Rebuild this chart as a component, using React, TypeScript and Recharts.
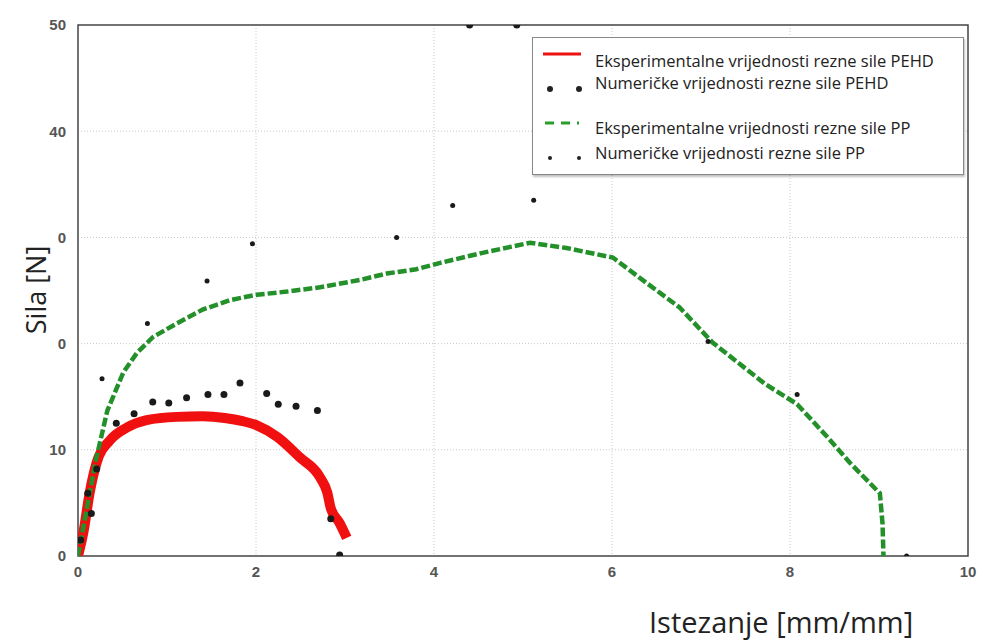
import React from "react";
import {
  ComposedChart,
  Line,
  Scatter,
  XAxis,
  YAxis,
  CartesianGrid,
  ReferenceArea,
} from "recharts";

// PEHD experimental (red band)
const pehdExpX = [0, 0.06, 0.13, 0.21, 0.36, 0.55, 0.77, 1.11, 1.4, 1.65, 1.85, 2.01, 2.24, 2.49, 2.72, 2.8, 2.84, 2.94, 3.02];
const pehdExpY = [0, 2.2, 5.9, 8.8, 10.9, 12.1, 12.8, 13.1, 13.15, 13.0, 12.7, 12.3, 11.2, 9.3, 7.4, 6.0, 4.5, 3.1, 1.7];

// PP experimental (green dashed)
const ppExpX = [0, 0.1, 0.2, 0.33, 0.51, 0.66, 0.84, 1.11, 1.4, 1.71, 2.01, 2.35, 2.72, 3.17, 3.47, 3.8, 4.07, 4.52, 5.08, 5.49, 6.01, 6.39, 6.76, 7.13, 7.72, 8.08, 8.42, 8.67, 9.01, 9.04, 9.05];
const ppExpY = [0, 4.5, 9, 13.7, 17.3, 19.1, 20.6, 21.9, 23.2, 24.1, 24.6, 24.9, 25.3, 26.0, 26.6, 27.0, 27.6, 28.5, 29.5, 29.0, 28.1, 25.7, 23.4, 20.1, 16.2, 14.3, 11.2, 8.8, 5.9, 3.0, 0];

// PEHD numerical (big dots)
const pehdNumX = [0.03, 0.11, 0.15, 0.21, 0.43, 0.63, 0.84, 1.02, 1.22, 1.46, 1.64, 1.82, 2.12, 2.25, 2.45, 2.69, 2.84, 2.94, 4.4, 4.93];
const pehdNumY = [1.5, 5.9, 4.0, 8.2, 12.5, 13.4, 14.5, 14.4, 14.9, 15.2, 15.2, 16.3, 15.3, 14.3, 14.1, 13.7, 3.5, 0.1, 50, 50];

// PP numerical (small dots)
const ppNumX = [0.27, 0.78, 1.45, 1.96, 3.58, 4.21, 5.12, 7.08, 8.08, 9.31];
const ppNumY = [16.7, 21.9, 25.9, 29.4, 30.0, 33.0, 33.5, 20.2, 15.2, 0];

const xTicks = [0, 2, 4, 6, 8, 10];
const xTickLabels = ["0", "2", "4", "6", "8", "10"];
const yTicks = [0, 10, 20, 30, 40, 50];
const yTickLabels = ["0", "10", "0", "0", "40", "50"];

const legendLabels = [
  "Eksperimentalne vrijednosti rezne sile PEHD",
  "Numeričke vrijednosti rezne sile PEHD",
  "Eksperimentalne vrijednosti rezne sile PP",
  "Numeričke vrijednosti rezne sile PP",
];

const toPoints = (xs: number[], ys: number[]) => xs.map((x, i) => ({ x, y: ys[i] }));

const pehdExp = toPoints(pehdExpX, pehdExpY);
const ppExp = toPoints(ppExpX, ppExpY);
const pehdNum = toPoints(pehdNumX, pehdNumY);
const ppNum = toPoints(ppNumX, ppNumY);

const tickStyle = { fill: "#555", fontSize: 15, fontFamily: "Liberation Sans, Arial, sans-serif", fontWeight: 600 };

function LegendBox() {
  const rowText = {
    position: "absolute" as const,
    left: 62,
    fontSize: 16.5,
    lineHeight: "18px",
    color: "#222",
    whiteSpace: "nowrap" as const,
  };
  return (
    <div
      style={{
        position: "absolute",
        left: 532,
        top: 37,
        width: 430,
        height: 136,
        border: "1px solid #888",
        background: "#fff",
        boxShadow: "1px 2px 2px rgba(0,0,0,0.25)",
        fontFamily: "Open Sans, sans-serif",
      }}
    >
      <svg width={60} height={136} style={{ position: "absolute", left: 0, top: 0 }}>
        <line x1={10} y1={16} x2={48} y2={16} stroke="#ee1111" strokeWidth={3} />
        <circle cx={17} cy={51} r={3} fill="#222" />
        <circle cx={46} cy={51} r={3} fill="#222" />
        <line x1={12} y1={85} x2={46} y2={85} stroke="#2a9d2a" strokeWidth={3} strokeDasharray="9 7" />
        <circle cx={17} cy={120} r={2} fill="#222" />
        <circle cx={46} cy={120} r={2} fill="#222" />
      </svg>
      <div style={{ ...rowText, top: 14 }}>{legendLabels[0]}</div>
      <div style={{ ...rowText, top: 36 }}>{legendLabels[1]}</div>
      <div style={{ ...rowText, top: 81 }}>{legendLabels[2]}</div>
      <div style={{ ...rowText, top: 106 }}>{legendLabels[3]}</div>
    </div>
  );
}

export default function App() {
  return (
    <div style={{ position: "absolute", left: 0, top: 0, width: 985, height: 643, background: "#fff" }}>
      <ComposedChart width={985} height={643} margin={{ top: 25, right: 17, bottom: 57, left: 0 }}>
        <CartesianGrid
          stroke="#c8c8c8"
          strokeDasharray="1 2"
          verticalValues={[2, 4, 6, 8]}
          horizontalValues={[10, 20, 30, 40]}
        />
        <XAxis
          type="number"
          dataKey="x"
          domain={[0, 10]}
          ticks={xTicks}
          tickFormatter={(v) => xTickLabels[xTicks.indexOf(v)]}
          tick={tickStyle}
          tickLine={false}
          axisLine={false}
          height={30}
          tickMargin={4}
          allowDataOverflow
        />
        <YAxis
          type="number"
          dataKey="y"
          domain={[0, 50]}
          ticks={yTicks}
          tickFormatter={(v) => yTickLabels[yTicks.indexOf(v)]}
          tick={tickStyle}
          tickLine={false}
          axisLine={false}
          width={78}
          tickMargin={6}
          allowDataOverflow
        />
        <ReferenceArea x1={0} x2={10} y1={0} y2={50} fill="none" stroke="#444" strokeWidth={1.5} ifOverflow="visible" />
        <Line
          data={pehdExp}
          dataKey="y"
          type="monotone"
          stroke="#f01010"
          strokeWidth={10}
          dot={false}
          isAnimationActive={false}
        />
        <Line
          data={ppExp}
          dataKey="y"
          type="linear"
          stroke="#23902a"
          strokeWidth={4.5}
          strokeDasharray="9 3"
          dot={false}
          isAnimationActive={false}
        />
        <Scatter
          data={pehdNum}
          dataKey="y"
          isAnimationActive={false}
          shape={(p: any) => <circle cx={p.cx} cy={p.cy} r={3.5} fill="#1a1a1a" />}
        />
        <Scatter
          data={ppNum}
          dataKey="y"
          isAnimationActive={false}
          shape={(p: any) => <circle cx={p.cx} cy={p.cy} r={2.5} fill="#1a1a1a" />}
        />
      </ComposedChart>
      <LegendBox />
      <div
        style={{
          position: "absolute",
          left: 35,
          top: 290,
          transform: "translate(-50%, -50%) rotate(-90deg)",
          fontFamily: "Open Sans, sans-serif",
          fontSize: 27,
          color: "#222",
          whiteSpace: "nowrap",
        }}
      >
        Sila [N]
      </div>
      <div
        style={{
          position: "absolute",
          left: 649,
          top: 602,
          fontFamily: "Open Sans, sans-serif",
          fontSize: 29,
          color: "#222",
          whiteSpace: "nowrap",
        }}
      >
        Istezanje [mm/mm]
      </div>
    </div>
  );
}
